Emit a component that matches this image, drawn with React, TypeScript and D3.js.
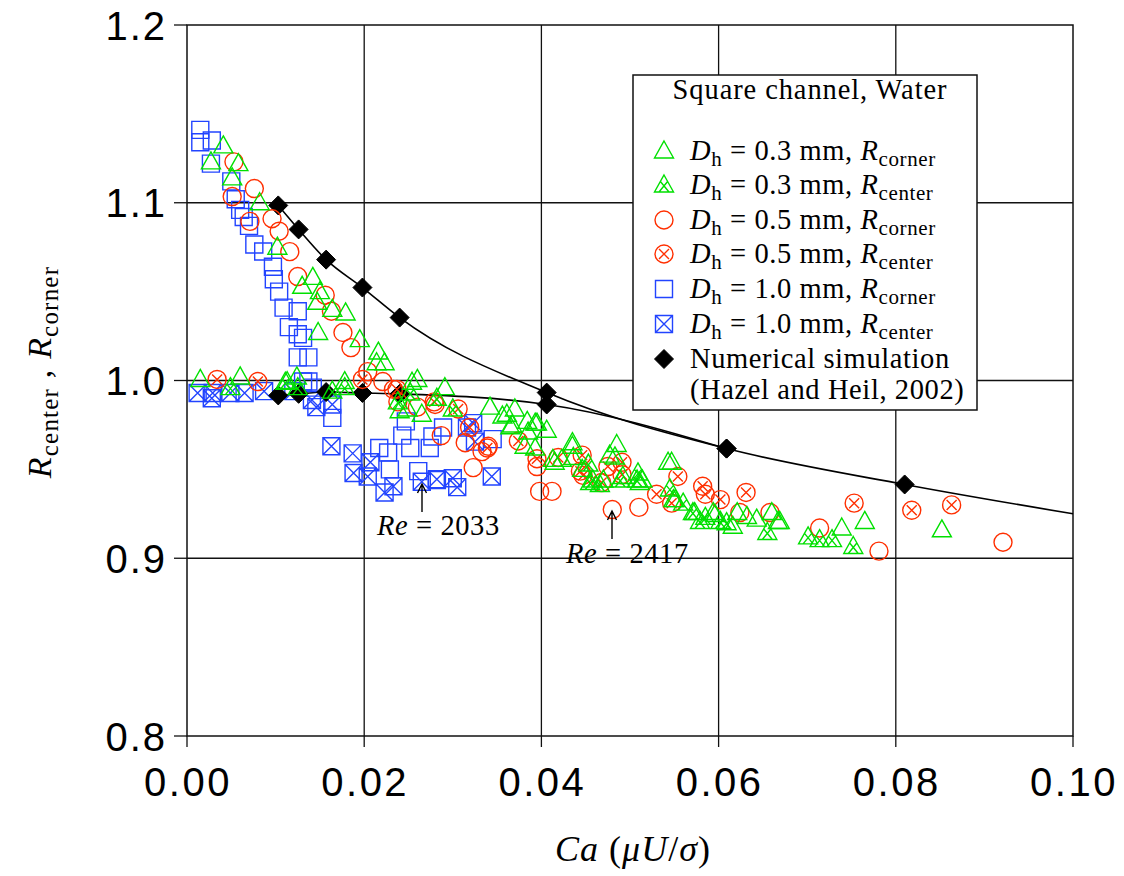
import React from 'react';
import * as d3 from 'd3';

// ---------- axis ticks ----------
const xTicks = [0, 0.02, 0.04, 0.06, 0.08, 0.1];
const xTickLabels = ['0.00', '0.02', '0.04', '0.06', '0.08', '0.10'];
const yTicks = [0.8, 0.9, 1.0, 1.1, 1.2];
const yTickLabels = ['0.8', '0.9', '1.0', '1.1', '1.2'];
const xGrid = [0.02, 0.04, 0.06, 0.08];
const yGrid = [0.9, 1.0, 1.1];

// ---------- data: [Ca, R] ----------
const greenCorner: [number, number][] = [
  [0.0041, 1.132], [0.0027, 1.123], [0.0058, 1.122], [0.0051, 1.114], [0.0082, 1.100], [0.0102, 1.075],
  [0.0130, 1.053], [0.0142, 1.058], [0.0150, 1.050], [0.0147, 1.044], [0.0164, 1.040], [0.0179, 1.038],
  [0.0148, 1.027], [0.0195, 1.023], [0.0216, 1.016], [0.0214, 1.010], [0.0223, 1.010],
  [0.0015, 1.0006], [0.0060, 1.002], [0.0113, 0.9994], [0.0124, 1.002], [0.0178, 0.9994],
  [0.0254, 0.999], [0.0260, 1.0006], [0.0291, 0.996], [0.0249, 0.984], [0.0265, 0.981], [0.0240, 0.983],
  [0.0342, 0.985], [0.0356, 0.980], [0.0370, 0.984], [0.0367, 0.975], [0.0393, 0.976], [0.0385, 0.971],
  [0.0406, 0.972], [0.0381, 0.963], [0.0413, 0.9556], [0.0361, 0.981], [0.0365, 0.974], [0.0384, 0.977],
  [0.0395, 0.976], [0.0393, 0.962], [0.0415, 0.954], [0.0423, 0.9556], [0.0435, 0.963], [0.0436, 0.9567],
  [0.0446, 0.950], [0.0485, 0.964], [0.0483, 0.957], [0.0492, 0.946], [0.0514, 0.944], [0.0547, 0.954],
  [0.0549, 0.933], [0.0573, 0.9257], [0.0594, 0.9257], [0.0616, 0.918], [0.0632, 0.9235], [0.0643, 0.922],
  [0.0667, 0.9207], [0.0660, 0.9257], [0.0669, 0.9207], [0.0739, 0.917], [0.0765, 0.9207], [0.0852, 0.916],
  [0.0435, 0.965], [0.0470, 0.944], [0.0477, 0.958], [0.0511, 0.9426], [0.0543, 0.954], [0.0551, 0.933],
  [0.0596, 0.9246], [0.0621, 0.9257],
];

const greenCenter: [number, number][] = [
  [0.0049, 0.996], [0.0111, 0.999], [0.0125, 0.996], [0.0164, 0.994], [0.0178, 0.996], [0.0238, 0.988],
  [0.0252, 0.993], [0.0282, 0.990], [0.0300, 0.984],
  [0.0455, 0.9426], [0.0466, 0.9415], [0.0509, 0.948], [0.0545, 0.939], [0.0560, 0.931], [0.0585, 0.923],
  [0.0602, 0.9207], [0.0655, 0.9145], [0.0701, 0.912], [0.0714, 0.9105], [0.0728, 0.9105], [0.0752, 0.9066],
  [0.0453, 0.953], [0.0458, 0.944], [0.0489, 0.944], [0.0508, 0.944], [0.0571, 0.9257], [0.0579, 0.9207],
  [0.0609, 0.920],
];

const redCorner: [number, number][] = [
  [0.0053, 1.123], [0.0076, 1.108], [0.0051, 1.1035], [0.0096, 1.091], [0.0071, 1.0895], [0.0104, 1.084],
  [0.0116, 1.0725], [0.0125, 1.0585], [0.0156, 1.048], [0.0163, 1.039], [0.0176, 1.027], [0.0185, 1.0185],
  [0.0204, 1.005], [0.0221, 0.9994], [0.0233, 0.995], [0.0238, 0.988], [0.0260, 0.985], [0.0280, 0.9865],
  [0.0287, 0.969], [0.0314, 0.965], [0.0340, 0.963], [0.0333, 0.960], [0.0323, 0.951], [0.0395, 0.9516],
  [0.0398, 0.9376], [0.0412, 0.9376], [0.0480, 0.9274], [0.0510, 0.9286], [0.0624, 0.9257], [0.0658, 0.9257],
  [0.0714, 0.917], [0.0781, 0.904], [0.0921, 0.909],
];

const redCenter: [number, number][] = [
  [0.0034, 1.0006], [0.0080, 0.9994], [0.0198, 1.0006], [0.0237, 0.995], [0.0279, 0.988], [0.0306, 0.984],
  [0.0319, 0.9736], [0.0339, 0.962], [0.0374, 0.966], [0.0395, 0.956], [0.0419, 0.9567], [0.0446, 0.958],
  [0.0444, 0.949], [0.0447, 0.9466], [0.0468, 0.9426], [0.0475, 0.9516], [0.0491, 0.954], [0.0491, 0.947],
  [0.0530, 0.936], [0.0547, 0.931], [0.0554, 0.946], [0.0582, 0.9405], [0.0585, 0.936], [0.0602, 0.933],
  [0.0631, 0.937], [0.0753, 0.931], [0.0818, 0.927], [0.0863, 0.930],
];

const blueCorner: [number, number][] = [
  [0.0015, 1.141], [0.0015, 1.134], [0.0028, 1.135], [0.0027, 1.122], [0.0050, 1.112], [0.0055, 1.102],
  [0.0060, 1.096], [0.0064, 1.092], [0.0070, 1.087], [0.0076, 1.0765], [0.0086, 1.0726], [0.0097, 1.064],
  [0.0098, 1.057], [0.0104, 1.050], [0.0109, 1.041], [0.0125, 1.039], [0.0115, 1.030], [0.0125, 1.026],
  [0.0131, 1.024], [0.0125, 1.013], [0.0137, 1.013], [0.0131, 0.9994], [0.0137, 0.9994], [0.0142, 0.996],
  [0.0164, 0.979], [0.0247, 0.977], [0.0243, 0.969], [0.0252, 0.962], [0.0217, 0.962], [0.0227, 0.9595],
  [0.0229, 0.950], [0.0277, 0.9685], [0.0274, 0.962], [0.0289, 0.9736], [0.0261, 0.949], [0.0282, 0.944],
  [0.0345, 0.967],
];

const blueCenter: [number, number][] = [
  [0.0012, 0.993], [0.0028, 0.990], [0.0029, 0.993], [0.0049, 0.993], [0.0065, 0.993], [0.0087, 0.994],
  [0.0120, 0.994], [0.0141, 0.989], [0.0146, 0.985], [0.0164, 0.9865], [0.0163, 0.963], [0.0187, 0.959],
  [0.0188, 0.948], [0.0207, 0.954], [0.0204, 0.946], [0.0223, 0.937], [0.0233, 0.9405], [0.0265, 0.943],
  [0.0282, 0.9445], [0.0300, 0.945], [0.0305, 0.940], [0.0344, 0.946], [0.0316, 0.9736], [0.0325, 0.9656],
  [0.0323, 0.976],
];

// numerical simulation (Hazel & Heil, 2002)
const simCorner: [number, number][] = [
  [0.0103, 1.0985], [0.0126, 1.085], [0.0157, 1.068], [0.0198, 1.0523], [0.0240, 1.0354],
  [0.0406, 0.9932], [0.0609, 0.9617], [0.0810, 0.9415],
];
const simCenter: [number, number][] = [
  [0.0103, 0.9916], [0.0126, 0.9925], [0.0157, 0.9935], [0.0198, 0.993], [0.0240, 0.9925],
  [0.0406, 0.9865], [0.0609, 0.9617],
];
const simCornerEnd: [number, number] = [0.1, 0.925];

// ---------- styles ----------
const GREEN = '#00e000';
const RED = '#ff2f00';
const BLUE = '#2244ff';

const W = 1124;
const H = 876;
const x = d3.scaleLinear().domain([0, 0.1]).range([187, 1073]);
const y = d3.scaleLinear().domain([0.8, 1.2]).range([736, 25]);

const TRI = 'M0,-10L9.5,7L-9.5,7Z';
const TRI_X = 'M-5,7L3.6,-3.5M5,7L-3.6,-3.5';
const CIRC_X = 'M-5,-5L5,5M-5,5L5,-5';
const SQ = 'M-8.5,-8.5H8.5V8.5H-8.5Z';
const SQ_X = 'M-8.5,-8.5L8.5,8.5M-8.5,8.5L8.5,-8.5';
const DIA = 'M0,-9.5L9.5,0L0,9.5L-9.5,0Z';

type Kind = 'tri' | 'triX' | 'circ' | 'circX' | 'sq' | 'sqX' | 'dia';

function Marker({ kind, tx, ty, color }: { kind: Kind; tx: number; ty: number; color: string }) {
  const common = { fill: 'none', stroke: color, strokeWidth: 1.4 };
  const t = `translate(${tx},${ty})`;
  if (kind === 'tri') return <path transform={t} d={TRI} {...common} />;
  if (kind === 'triX') return <path transform={t} d={TRI + TRI_X} {...common} />;
  if (kind === 'circ') return <circle cx={tx} cy={ty} r={9} {...common} />;
  if (kind === 'circX')
    return (
      <g transform={t}>
        <circle r={9} {...common} />
        <path d={CIRC_X} {...common} />
      </g>
    );
  if (kind === 'sq') return <path transform={t} d={SQ} {...common} />;
  if (kind === 'sqX') return <path transform={t} d={SQ + SQ_X} {...common} />;
  return <path transform={t} d={DIA} fill="#000" stroke="#000" strokeWidth={1} />;
}

function Series({ data, kind, color }: { data: [number, number][]; kind: Kind; color: string }) {
  return (
    <g>
      {data.map((d, i) => (
        <Marker key={i} kind={kind} tx={x(d[0])} ty={y(d[1])} color={color} />
      ))}
    </g>
  );
}

const legendItems: { kind: Kind; color: string; d: string; sub: string }[] = [
  { kind: 'tri', color: GREEN, d: '0.3', sub: 'corner' },
  { kind: 'triX', color: GREEN, d: '0.3', sub: 'center' },
  { kind: 'circ', color: RED, d: '0.5', sub: 'corner' },
  { kind: 'circX', color: RED, d: '0.5', sub: 'center' },
  { kind: 'sq', color: BLUE, d: '1.0', sub: 'corner' },
  { kind: 'sqX', color: BLUE, d: '1.0', sub: 'center' },
];

export default function App() {
  const line = d3
    .line<[number, number]>()
    .x((d) => x(d[0]))
    .y((d) => y(d[1]))
    .curve(d3.curveMonotoneX);

  const upperPath = line([...simCorner, simCornerEnd]) || '';
  const lowerPath = line(simCenter) || '';

  const serif = '"Liberation Serif", "Times New Roman", serif';
  const sans = '"Liberation Sans", Arial, sans-serif';
  const [x0, x1] = x.range();
  const [y0, y1] = y.range();

  const legendRowsY = [160, 194, 229, 263, 298, 333];

  return (
    <svg width={W} height={H} style={{ position: 'absolute', left: 0, top: 0, background: '#fff' }}>
      <rect x={0} y={0} width={W} height={H} fill="#fff" />
      {/* grid */}
      <g stroke="#111" strokeWidth={1.3}>
        {xGrid.map((v) => (
          <line key={'gx' + v} x1={x(v)} x2={x(v)} y1={y1} y2={y0} />
        ))}
        {yGrid.map((v) => (
          <line key={'gy' + v} x1={x0} x2={x1} y1={y(v)} y2={y(v)} />
        ))}
      </g>
      {/* ticks */}
      <g stroke="#111" strokeWidth={1.3}>
        {xTicks.map((v) => (
          <line key={'tx' + v} x1={x(v)} x2={x(v)} y1={y0} y2={y0 + 11} />
        ))}
        {yTicks.map((v) => (
          <line key={'ty' + v} x1={x0 - 13} x2={x0} y1={y(v)} y2={y(v)} />
        ))}
      </g>
      <rect x={x0} y={y1} width={x1 - x0} height={y0 - y1} fill="none" stroke="#111" strokeWidth={1.5} />

      {/* tick labels */}
      <g fontFamily={sans} fontSize={40} fill="#000">
        {xTicks.map((v, i) => (
          <text key={'lx' + v} x={x(v) + 1} y={796} textAnchor="middle" letterSpacing={2.5}>
            {xTickLabels[i]}
          </text>
        ))}
        {yTicks.map((v, i) => (
          <text key={'ly' + v} x={167} y={y(v) + 14.5} textAnchor="end" letterSpacing={2}>
            {yTickLabels[i]}
          </text>
        ))}
      </g>

      {/* simulation lines */}
      <path d={upperPath} fill="none" stroke="#000" strokeWidth={1.6} />
      <path d={lowerPath} fill="none" stroke="#000" strokeWidth={1.6} />

      {/* data */}
      <Series data={blueCorner} kind="sq" color={BLUE} />
      <Series data={blueCenter} kind="sqX" color={BLUE} />
      <Series data={simCorner} kind="dia" color="#000" />
      <Series data={simCenter} kind="dia" color="#000" />
      <Series data={redCorner} kind="circ" color={RED} />
      <Series data={redCenter} kind="circX" color={RED} />
      <Series data={greenCorner} kind="tri" color={GREEN} />
      <Series data={greenCenter} kind="triX" color={GREEN} />

      {/* annotations */}
      <g stroke="#000" strokeWidth={1.4} fill="none">
        <path d="M422,512V484M417.5,493L422,484L426.5,493" />
        <path d="M612,539V511M607.5,520L612,511L616.5,520" />
      </g>
      <g fontFamily={serif} fontSize={28.5} fill="#000" letterSpacing={0.6}>
        <text x={377} y={535}>
          <tspan fontStyle="italic">Re</tspan> = 2033
        </text>
        <text x={566} y={563}>
          <tspan fontStyle="italic">Re</tspan> = 2417
        </text>
      </g>

      {/* legend */}
      <rect x={633} y={75} width={344} height={335} fill="#fff" stroke="#111" strokeWidth={1.5} />
      <g fontFamily={serif} fontSize={28.5} fill="#000" letterSpacing={0.6}>
        <text x={810} y={99} textAnchor="middle" letterSpacing={0.9}>Square channel, Water</text>
        {legendItems.map((it, i) => (
          <g key={'lg' + i}>
            <Marker kind={it.kind} tx={664} ty={legendRowsY[i] - 9} color={it.color} />
            <text x={690} y={legendRowsY[i]}>
              <tspan fontStyle="italic">D</tspan>
              <tspan fontSize={21} dy={6}>h</tspan>
              <tspan dy={-6}>{` = ${it.d} mm, `}</tspan>
              <tspan fontStyle="italic">R</tspan>
              <tspan fontSize={21} dy={6}>{it.sub}</tspan>
            </text>
          </g>
        ))}
        <Marker kind="dia" tx={664} ty={359} color="#000" />
        <text x={690} y={368}>Numerical simulation</text>
        <text x={690} y={399}>(Hazel and Heil, 2002)</text>
      </g>

      {/* axis titles */}
      <text x={633} y={861} textAnchor="middle" fontFamily={serif} fontSize={36} fill="#000" letterSpacing={1}>
        <tspan fontStyle="italic">Ca</tspan>
        <tspan> (</tspan>
        <tspan fontStyle="italic">μU</tspan>
        <tspan>/</tspan>
        <tspan fontStyle="italic">σ</tspan>
        <tspan>)</tspan>
      </text>
      <text
        transform="translate(51,372) rotate(-90)"
        textAnchor="middle"
        fontFamily={serif}
        fontSize={34}
        fill="#000"
        letterSpacing={1.2}
      >
        <tspan fontStyle="italic">R</tspan>
        <tspan fontSize={25} dy={7}>center</tspan>
        <tspan dy={-7}> , </tspan>
        <tspan fontStyle="italic">R</tspan>
        <tspan fontSize={25} dy={7}>corner</tspan>
      </text>
    </svg>
  );
}
